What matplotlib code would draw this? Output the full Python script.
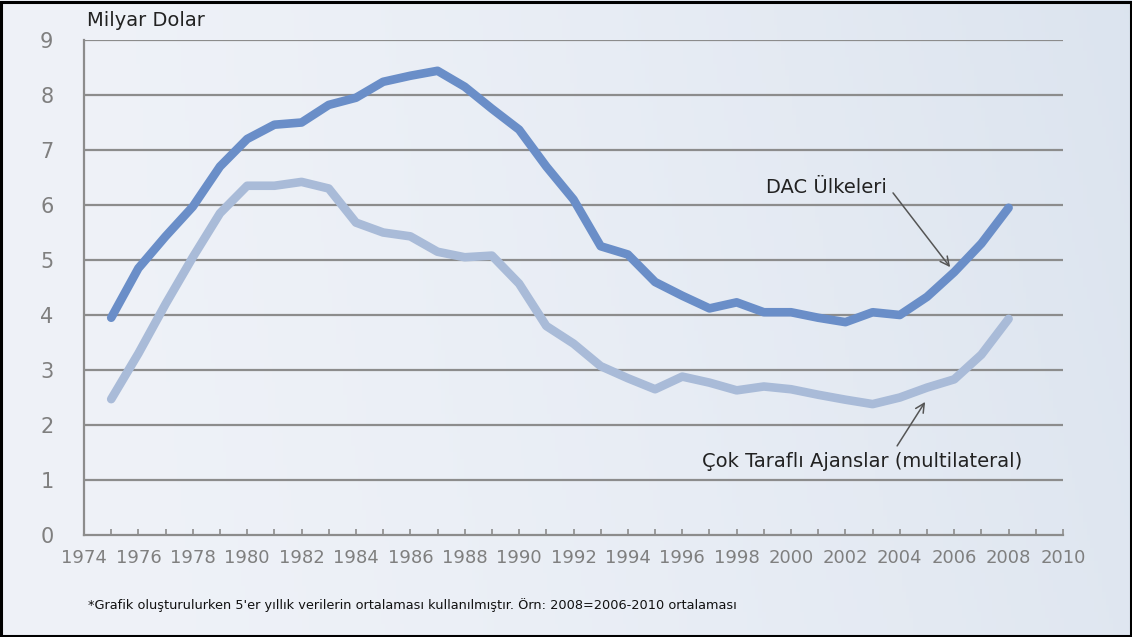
import numpy as np
import matplotlib
matplotlib.use("Agg")
import matplotlib.pyplot as plt
from matplotlib.patches import Rectangle

years = list(range(1975, 2009))
dac = [3.95, 4.85, 5.43, 5.97, 6.70, 7.20, 7.46, 7.50, 7.82, 7.95, 8.24, 8.35, 8.44,
       8.15, 7.75, 7.37, 6.70, 6.10, 5.25, 5.10, 4.60, 4.35, 4.12, 4.23, 4.05, 4.05,
       3.95, 3.87, 4.05, 4.00, 4.33, 4.78, 5.30, 5.95]
multi = [2.47, 3.30, 4.20, 5.05, 5.85, 6.35, 6.35, 6.42, 6.30, 5.68, 5.50, 5.43, 5.15,
         5.05, 5.08, 4.57, 3.80, 3.48, 3.07, 2.85, 2.65, 2.88, 2.77, 2.63, 2.70, 2.65,
         2.55, 2.46, 2.38, 2.50, 2.68, 2.83, 3.28, 3.93]
xtick_labels = list(range(1974, 2011, 2))
yticks = list(range(0, 10))

W, H = 1132, 637
fig = plt.figure(figsize=(W / 100, H / 100), dpi=100)

# background gradient
bg = fig.add_axes([0, 0, 1, 1], zorder=-10)
nx, ny = 300, 100
gx = np.linspace(0, 1, nx)[None, :]
gy = np.linspace(0, 1, ny)[:, None]
t = np.clip(0.8 * gx ** 1.6 + 0.2 * (1 - gy) * gx, 0, 1)
c0 = np.array([0.937, 0.949, 0.972])
c1 = np.array([0.862, 0.894, 0.937])
img = c0[None, None, :] * (1 - t[..., None]) + c1[None, None, :] * t[..., None]
bg.imshow(img, aspect="auto", extent=[0, 1, 0, 1], origin="upper")
bg.set_xlim(0, 1)
bg.set_ylim(0, 1)
bg.axis("off")

ax = fig.add_axes([84 / W, 1 - 535 / H, (1063 - 84) / W, (535 - 40) / H])
ax.set_facecolor("none")

grid_c = "#8c8c8c"
for yv in yticks[1:]:
    ax.axhline(yv, color=grid_c, lw=1.6, zorder=1)

ax.plot(years, multi, color="#a9bbd8", lw=6.2, solid_capstyle="round",
        solid_joinstyle="round", zorder=3)
ax.plot(years, dac, color="#6a8ec8", lw=6.2, solid_capstyle="round",
        solid_joinstyle="round", zorder=4)

ax.set_xlim(1974, 2010)
ax.set_ylim(0, 9)
ax.set_xticks(xtick_labels)
ax.set_xticklabels([str(v) for v in xtick_labels])
ax.set_xticks(list(range(1974, 2011)), minor=True)
ax.set_yticks(yticks)
ax.set_yticklabels([str(v) for v in yticks])

for s in ["top", "right"]:
    ax.spines[s].set_visible(False)
for s in ["left", "bottom"]:
    ax.spines[s].set_color(grid_c)
    ax.spines[s].set_linewidth(1.6)

ax.tick_params(axis="x", which="both", direction="in", length=4.5, width=1.2,
               color=grid_c, labelcolor="#7f7f7f", labelsize=13, pad=10)
ax.tick_params(axis="y", which="both", length=0, labelcolor="#7f7f7f",
               labelsize=15, pad=22)

# annotations
tc = "#222222"
ax.text(2001.3, 6.31, "DAC Ülkeleri", fontsize=14, color=tc, ha="center", va="center")
ax.annotate("", xy=(2005.85, 4.87), xytext=(2003.75, 6.22),
            arrowprops=dict(arrowstyle="->", color="#555555", lw=1.1,
                            mutation_scale=16, shrinkA=0, shrinkB=0))
ax.text(2002.6, 1.33, "Çok Taraflı Ajanslar (multilateral)", fontsize=14,
        color=tc, ha="center", va="center")
ax.annotate("", xy=(2004.93, 2.42), xytext=(2003.9, 1.62),
            arrowprops=dict(arrowstyle="->", color="#555555", lw=1.1,
                            mutation_scale=16, shrinkA=0, shrinkB=0))

fig.text(87 / W, 1 - 21 / H, "Milyar Dolar", fontsize=14, color=tc,
         ha="left", va="center")
fig.text(88 / W, 1 - 605 / H,
         "*Grafik oluşturulurken 5'er yıllık verilerin ortalaması kullanılmıştır. "
         "Örn: 2008=2006-2010 ortalaması",
         fontsize=9.3, color="#111111", ha="left", va="center")

fig.patches.append(Rectangle((1 / W, 1 / H), 1 - 2.5 / W, 1 - 2.5 / H,
                             transform=fig.transFigure, fill=False,
                             edgecolor="black", lw=2.2, zorder=20))

fig.savefig("out.png", dpi=100)
